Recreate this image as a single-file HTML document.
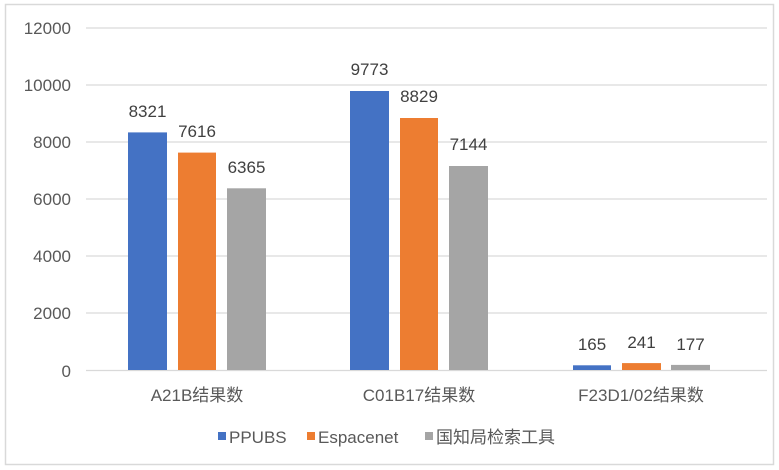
<!DOCTYPE html>
<html><head><meta charset="utf-8"><style>
html,body{margin:0;padding:0;background:#fff;}
svg{display:block;font-family:"Liberation Sans","Noto Sans CJK SC",sans-serif;}
</style></head><body>
<svg width="779" height="470" viewBox="0 0 779 470" xmlns="http://www.w3.org/2000/svg">
<rect x="0" y="0" width="779" height="470" fill="#fff"/>
<rect x="5.5" y="4.5" width="768" height="460" fill="none" stroke="#d9d9d9" stroke-width="1.5"/>
<g stroke="#d9d9d9" stroke-width="1.2">
<line x1="86" x2="767" y1="28" y2="28"/>
<line x1="86" x2="767" y1="85" y2="85"/>
<line x1="86" x2="767" y1="142" y2="142"/>
<line x1="86" x2="767" y1="199" y2="199"/>
<line x1="86" x2="767" y1="256" y2="256"/>
<line x1="86" x2="767" y1="313" y2="313"/>
<line x1="86" x2="767" y1="370.5" y2="370.5"/>
</g>
<g fill="#595959" font-size="17" text-anchor="end">
<text x="71" y="34">12000</text>
<text x="71" y="91">10000</text>
<text x="71" y="148">8000</text>
<text x="71" y="205">6000</text>
<text x="71" y="262">4000</text>
<text x="71" y="319">2000</text>
<text x="71" y="377">0</text>
</g>
<g>
<rect x="128" y="132.4" width="39" height="237.6" fill="#4472c4"/>
<rect x="178" y="152.6" width="38" height="217.4" fill="#ed7d31"/>
<rect x="227" y="188.3" width="39" height="181.7" fill="#a5a5a5"/>
<rect x="350" y="91" width="39" height="279" fill="#4472c4"/>
<rect x="400" y="118" width="38" height="252" fill="#ed7d31"/>
<rect x="449" y="166" width="39" height="204" fill="#a5a5a5"/>
<rect x="573" y="365.3" width="38" height="4.7" fill="#4472c4"/>
<rect x="622" y="363.1" width="39" height="6.9" fill="#ed7d31"/>
<rect x="671" y="364.9" width="39" height="5.1" fill="#a5a5a5"/>
</g>
<g fill="#404040" font-size="17" text-anchor="middle">
<text x="147.5" y="117">8321</text>
<text x="197" y="137">7616</text>
<text x="246.5" y="173">6365</text>
<text x="369.5" y="75">9773</text>
<text x="419" y="102">8829</text>
<text x="468.5" y="150">7144</text>
<text x="592" y="350">165</text>
<text x="641.5" y="348">241</text>
<text x="690.5" y="350">177</text>
</g>
<g fill="#595959" font-size="17" text-anchor="middle">
<text x="197" y="401">A21B结果数</text>
<text x="419" y="401">C01B17结果数</text>
<text x="641" y="401">F23D1/02结果数</text>
</g>
<g font-size="17" fill="#595959">
<rect x="218" y="432" width="8" height="8" fill="#4472c4"/>
<text x="229" y="443">PPUBS</text>
<rect x="307" y="432" width="8" height="8" fill="#ed7d31"/>
<text x="318" y="443">Espacenet</text>
<rect x="425" y="432" width="8" height="8" fill="#a5a5a5"/>
<text x="436" y="443">国知局检索工具</text>
</g>
</svg>
</body></html>
